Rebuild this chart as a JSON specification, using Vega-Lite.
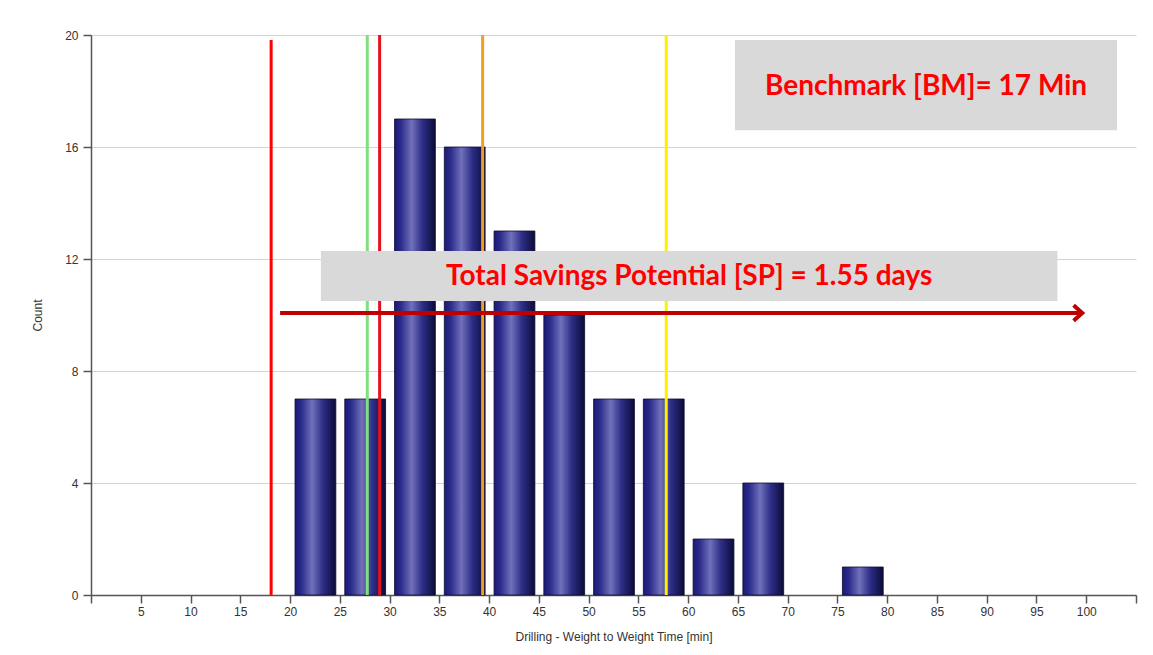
{
  "$schema": "https://vega.github.io/schema/vega-lite/v6.json",
  "width": 1045,
  "height": 560,
  "autosize": "none",
  "padding": {"left": 91, "top": 35, "right": 17, "bottom": 60},
  "background": "white",
  "config": {
    "view": {"stroke": null},
    "font": "Liberation Sans",
    "axis": {"labelFont": "Liberation Sans", "titleFont": "Liberation Sans", "labelFontSize": 12, "titleFontSize": 12, "titleFontWeight": "normal", "labelColor": "#333333", "titleColor": "#333333", "domainColor": "#555555", "tickColor": "#555555", "domainWidth": 1.5, "tickWidth": 1.5, "tickSize": 8}
  },
  "datasets": {
    "bars": [
      {"bin_start": 20, "bin_end": 25, "count": 7},
      {"bin_start": 25, "bin_end": 30, "count": 7},
      {"bin_start": 30, "bin_end": 35, "count": 17},
      {"bin_start": 35, "bin_end": 40, "count": 16},
      {"bin_start": 40, "bin_end": 45, "count": 13},
      {"bin_start": 45, "bin_end": 50, "count": 10},
      {"bin_start": 50, "bin_end": 55, "count": 7},
      {"bin_start": 55, "bin_end": 60, "count": 7},
      {"bin_start": 60, "bin_end": 65, "count": 2},
      {"bin_start": 65, "bin_end": 70, "count": 4},
      {"bin_start": 75, "bin_end": 80, "count": 1}
    ],
    "bench": [
      {"name": "Benchmark", "value": 18.1, "low": 0, "top": 19.82}
    ],
    "lines": [
      {"name": "Green", "value": 27.76},
      {"name": "Red", "value": 29.0},
      {"name": "Orange", "value": 39.35},
      {"name": "Yellow", "value": 57.8}
    ],
    "boxes": [
      {"label": "Benchmark [BM]= 17 Min", "x1": 64.7, "x2": 103.1, "y1": 16.6, "y2": 19.82, "tx": 83.9, "ty": 18.15},
      {"label": "Total Savings Potential [SP] = 1.55 days", "x1": 23.1, "x2": 97.1, "y1": 10.5, "y2": 12.29, "tx": 60.1, "ty": 11.35}
    ],
    "arrow": [
      {"x1": 19.0, "x2": 99.6, "y": 10.07}
    ]
  },
  "layer": [
    {
      "data": {"name": "bars"},
      "transform": [
        {"calculate": "datum.bin_start + 0.5", "as": "left"},
        {"calculate": "datum.bin_start + 4.6", "as": "right"},
        {"calculate": "0", "as": "base"}
      ],
      "mark": {
        "type": "rect",
        "stroke": "#0a0a30",
        "strokeWidth": 0.8,
        "fill": {
          "gradient": "linear", "x1": 0, "y1": 0, "x2": 1, "y2": 0,
          "stops": [
            {"offset": 0, "color": "#1a1a78"},
            {"offset": 0.15, "color": "#2a2a8a"},
            {"offset": 0.42, "color": "#7070bb"},
            {"offset": 0.68, "color": "#2e2e88"},
            {"offset": 1, "color": "#0b0b38"}
          ]
        }
      },
      "encoding": {
        "x": {
          "field": "left", "type": "quantitative",
          "scale": {"domain": [0, 105], "nice": false, "zero": true},
          "axis": {
            "values": [0,5,10,15,20,25,30,35,40,45,50,55,60,65,70,75,80,85,90,95,100,105],
            "labelExpr": "datum.value == 0 || datum.value == 105 ? '' : datum.label",
            "grid": false,
            "title": "Drilling - Weight to Weight Time [min]",
            "titlePadding": 14,
            "labelPadding": 3
          }
        },
        "x2": {"field": "right"},
        "y": {
          "field": "count", "type": "quantitative",
          "scale": {"domain": [0, 20], "nice": false},
          "axis": {
            "values": [0, 4, 8, 12, 16, 20],
            "grid": true, "gridColor": "#d4d4d4", "gridWidth": 1.2,
            "title": "Count",
            "titlePadding": 20,
            "labelPadding": 5
          }
        },
        "y2": {"field": "base"}
      }
    },
    {
      "data": {"name": "bench"},
      "mark": {"type": "rule", "strokeWidth": 3, "color": "#ff0000"},
      "encoding": {
        "x": {"field": "value", "type": "quantitative"},
        "y": {"field": "low", "type": "quantitative"},
        "y2": {"field": "top"}
      }
    },
    {
      "data": {"name": "lines"},
      "mark": {"type": "rule", "strokeWidth": 3},
      "encoding": {
        "x": {"field": "value", "type": "quantitative"},
        "color": {
          "field": "name", "type": "nominal",
          "scale": {"domain": ["Green", "Red", "Orange", "Yellow"], "range": ["#7ee07e", "#e8101a", "#f0a020", "#ffee00"]},
          "legend": null
        }
      }
    },
    {
      "data": {"name": "boxes"},
      "mark": {"type": "rect", "color": "#d9d9d9"},
      "encoding": {
        "x": {"field": "x1", "type": "quantitative"},
        "x2": {"field": "x2"},
        "y": {"field": "y1", "type": "quantitative"},
        "y2": {"field": "y2"}
      }
    },
    {
      "data": {"name": "boxes"},
      "mark": {"type": "text", "font": "Lato", "fontWeight": "bold", "fontSize": 28, "color": "#ff0000", "align": "center", "baseline": "middle"},
      "encoding": {
        "x": {"field": "tx", "type": "quantitative"},
        "y": {"field": "ty", "type": "quantitative"},
        "text": {"field": "label"}
      }
    },
    {
      "data": {"name": "arrow"},
      "mark": {"type": "rule", "color": "#c00000", "strokeWidth": 4},
      "encoding": {
        "x": {"field": "x1", "type": "quantitative"},
        "x2": {"field": "x2"},
        "y": {"field": "y", "type": "quantitative"}
      }
    },
    {
      "data": {"name": "arrow"},
      "mark": {"type": "point", "shape": "M-1,-0.9L0,0L-1,0.9", "filled": false, "stroke": "#c00000", "strokeWidth": 4, "size": 300, "opacity": 1},
      "encoding": {
        "x": {"field": "x2", "type": "quantitative"},
        "y": {"field": "y", "type": "quantitative"}
      }
    }
  ]
}
